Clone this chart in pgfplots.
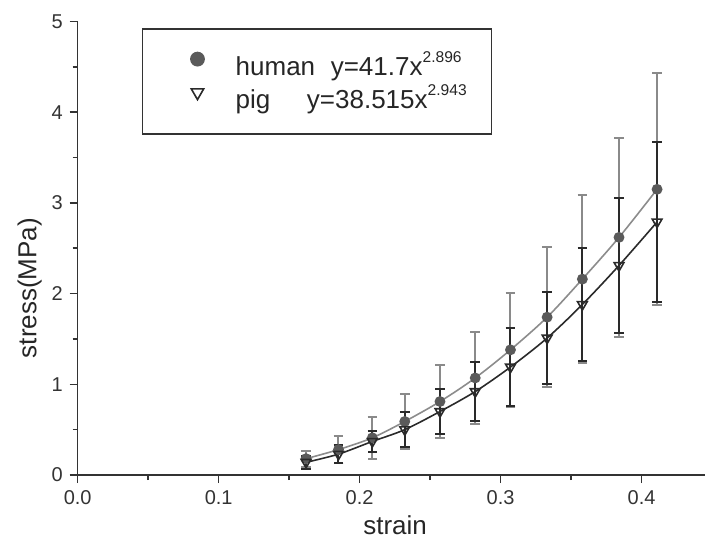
\documentclass[border=0pt]{standalone}
\usepackage{fontspec}
\setmainfont{Liberation Sans}
\usepackage{pgfplots}
\pgfplotsset{compat=1.18}

\definecolor{axiscol}{HTML}{333333}
\definecolor{humanmark}{HTML}{5A5A5A}
\definecolor{humanline}{HTML}{8C8C8C}
\definecolor{humanbar}{HTML}{8A8A8A}
\definecolor{pigcol}{HTML}{2A2A2A}

% legend images: mark only, with fixed cell extents
\pgfplotsset{
    humanleg/.style={legend image code/.code={
        \path[draw=none, fill=none] (0pt,-8pt) rectangle (46.6pt,17.85pt);
        \draw[##1, mark size=3.3pt] plot coordinates {(27.5pt,2.85pt)};}},
    pigleg/.style={legend image code/.code={
        \path[draw=none, fill=none] (0pt,-18pt) rectangle (46.6pt,8.65pt);
        \draw[##1, mark size=3.6pt] plot coordinates {(27.5pt,2.85pt)};}},
}
\newcommand{\sups}[1]{\raisebox{6.5pt}{\fontsize{7.8}{9}\selectfont #1}}

\begin{document}
\begin{tikzpicture}
\begin{axis}[
    at={(0,0)}, anchor=origin,
    scale only axis,
    width=313.65pt, height=226.75pt,
    xmin=0, xmax=0.445, ymin=0, ymax=5,
    axis lines=left,
    axis line style={-, line width=0.8pt, color=axiscol},
    xtick={0,0.1,0.2,0.3,0.4},
    ytick={0,1,2,3,4,5},
    minor x tick num=1, minor y tick num=1,
    tick align=outside,
    major tick length=4pt, minor tick length=2.5pt,
    every tick/.style={line width=0.8pt, color=axiscol},
    xticklabel style={/pgf/number format/.cd, fixed, fixed zerofill, precision=1},
    /pgf/number format/assume math mode=true,
    tick label style={font=\fontsize{10}{12}\selectfont, text=black!80},
    xlabel={strain},
    ylabel={stress(MPa)},
    label style={font=\fontsize{13}{15}\selectfont, text=black!85},
    xlabel style={at={(axis description cs:0.506,-0.110)}, anchor=center},
    ylabel style={at={(axis description cs:-0.0768,0.412)}, anchor=center},
    legend style={at={(axis description cs:0.102,0.985)}, anchor=north west,
        draw=axiscol, line width=0.8pt, inner sep=0pt,
        column sep=0pt, row sep=0pt,
        font=\fontsize{13}{15}\selectfont,
        nodes={inner sep=0pt, text=black!85}},
    legend cell align=left,
]

% human: mean stress with SD
\addplot[humanline, line width=0.8pt, smooth,
    mark=*, mark size=2.3pt, mark options={fill=humanmark, draw=humanmark, solid},
    humanleg,
    error bars/.cd, y dir=both, y explicit, error mark=-,
    error bar style={humanbar, line width=1pt},
    error mark options={humanbar, line width=1pt, mark size=2.4pt, rotate=90}]
coordinates {
(0.162,0.18) +- (0,0.09)
(0.185,0.28) +- (0,0.15)
(0.209,0.41) +- (0,0.23)
(0.232,0.59) +- (0,0.30)
(0.257,0.81) +- (0,0.40)
(0.282,1.07) +- (0,0.51)
(0.307,1.38) +- (0,0.63)
(0.333,1.74) +- (0,0.77)
(0.358,2.16) +- (0,0.93)
(0.384,2.62) +- (0,1.10)
(0.411,3.15) +- (0,1.28)
};
\addlegendentry{\makebox[127.9pt][l]{human\hspace{7.8pt}y=41.7x\sups{2.896}}}

% pig
\addplot[pigcol, line width=0.8pt, smooth,
    mark=triangle, mark size=2.8pt, mark options={rotate=180, draw=pigcol, fill=none, solid},
    pigleg,
    error bars/.cd, y dir=both, y explicit, error mark=-,
    error bar style={pigcol, line width=1pt},
    error mark options={pigcol, line width=1pt, mark size=2.4pt, rotate=90}]
coordinates {
(0.162,0.14) +- (0,0.07)
(0.185,0.23) +- (0,0.10)
(0.209,0.37) +- (0,0.12)
(0.232,0.50) +- (0,0.19)
(0.257,0.70) +- (0,0.25)
(0.282,0.92) +- (0,0.33)
(0.307,1.19) +- (0,0.43)
(0.333,1.51) +- (0,0.51)
(0.358,1.88) +- (0,0.62)
(0.384,2.31) +- (0,0.74)
(0.411,2.79) +- (0,0.88)
};
\addlegendentry{\makebox[127.9pt][l]{pig\hspace{18.3pt}y=38.515x\sups{2.943}}}

\end{axis}
\pgfresetboundingbox
\path (-38.85pt,-35pt) rectangle (313.65pt,237.5pt);
\end{tikzpicture}
\end{document}
